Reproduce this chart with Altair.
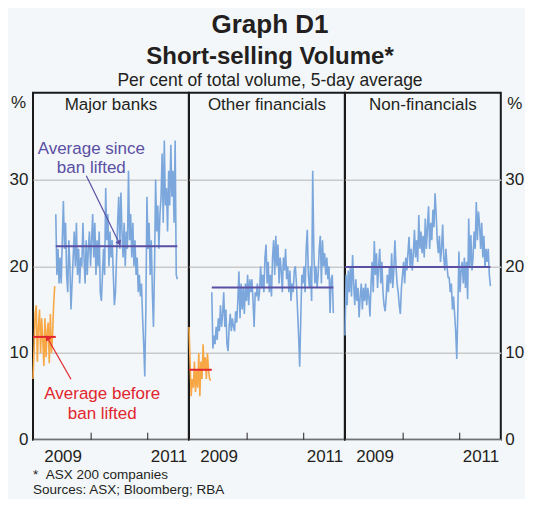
import altair as alt
import pandas as pd

FONT = "Liberation Sans"
BG = "#f3f7fa"
BLUE = "#7ba7dc"
ORANGE = "#f8a745"
PURPLE = "#5a4fa3"
RED = "#e1262d"
INK = "#231f20"
GRID = "#c9c9c9"

START = "2008-12-22"      # first observation
LIFT = "2009-05-18"       # ban lifted for financials
TICK_DATES = ["2010-01-01", "2011-01-01"]
PANELS = ["Major banks", "Other financials", "Non-financials"]

# weekly 5-day average short-selling volume, per cent of total volume
major_before = [7.0, 10.5, 14.5, 15.5, 9.0, 13.0, 15.0, 10.0, 14.0, 11.5, 8.5,
                14.0, 9.5, 12.5, 13.5, 8.8, 14.5, 10.0, 12.0, 15.5, 17.7]
major_after = [26, 19, 22, 18, 21, 18, 23, 27.5,
               22, 25, 19, 17, 23, 20, 15, 18, 21,
               24, 20, 25, 19, 22, 18, 21, 20, 25,
               21, 18, 23, 19, 22, 24, 20, 23, 26,
               21, 25, 19, 23, 20, 24, 17, 16, 19,
               22, 19, 29, 23, 26, 20, 24, 21, 23,
               19, 15.5, 17, 21, 25, 28, 22, 28.5, 24,
               21, 25, 20, 24, 22, 31, 23, 26, 21,
               25, 20, 23, 19, 21, 17, 19, 16.5, 18,
               14, 11, 7.3, 15, 28, 22, 25, 19, 23,
               17, 13, 20, 30, 24, 27, 22, 26, 28,
               33, 25, 34.5, 27, 29, 24, 31, 27, 34,
               28, 31, 25, 34.5, 19, 18.5]
other_before = [13, 9, 5, 7, 6, 9, 5.5, 8, 6, 10, 5, 9, 7, 11, 8, 9.5, 7, 10,
                8, 7, 6.8]
other_after = [17, 10.5, 12, 11, 13, 11.5,
               14, 12.5, 15.5, 13, 14.5, 17,
               13, 15, 11, 10.2, 13, 14.5,
               12.5, 14, 13, 12.5, 14.8, 13.5,
               16, 19.4, 14, 18, 15, 17.5,
               14.5, 18, 16, 19, 15.5, 18.5,
               17, 18.5, 16, 13, 17, 16.5,
               18, 16, 17, 20, 17.5, 19,
               17, 21, 22.5, 18, 20.5, 17,
               19, 16.5, 21, 23, 19, 23.5,
               20, 22.5, 18, 21, 19.5, 17,
               21, 19.5, 22, 18.5, 20, 17,
               19.5, 16, 18, 17, 19.5, 20,
               18, 15, 12, 8.4, 14, 19,
               18, 20, 17, 22, 24.2, 19,
               17.5, 20, 16, 31, 22, 18,
               20, 17.5, 19, 22, 23.5, 18,
               23, 20, 21.5, 19, 21, 18.5,
               20, 14.6, 18.5, 19, 14.6]
nonfin_after = [12, 19, 15.5, 19.5, 17, 20, 16.5, 21.3, 18, 15.5, 18.5, 16,
                17.5, 14.1, 16.5, 18, 15, 17.5, 16, 18, 15.5, 17.5, 16.5, 14.2,
                18, 20.5, 17, 22.9, 19, 21.5, 17.5, 20, 22, 18, 20.5, 17,
                15.5, 14.8, 16.5, 19, 17, 20, 18, 21.5, 17.5, 19.5, 23, 20,
                18, 17, 15.5, 14.5, 17.5, 19, 20.5, 18, 21, 19.5, 21.5, 23.4,
                20, 22, 19.5, 21.5, 24.2, 21, 23, 20.5, 25.9, 22, 24, 21.5,
                23.5, 21, 25.5, 22, 24.5, 26.9, 22, 25, 23, 26.5, 24.5, 28.4,
                26, 23, 21.5, 23.5, 20.5, 22, 24.8, 21, 19.5, 22, 20, 18.7,
                18.7, 17, 18, 15, 16.5, 14.5, 12.5, 9.3, 15, 21.7, 17, 19.5,
                20.5, 18, 21, 17.5, 20.5, 16.2,
                25.5, 20, 23.6, 19.5, 21, 24, 22, 27.4, 23, 26.3, 24.8, 22,
                25, 21, 23.5, 19.8, 22, 20.5, 22, 19, 17.7]

avg_before = {"Major banks": 11.85, "Other financials": 8.06}
avg_after = {"Major banks": 22.3, "Other financials": 17.55, "Non-financials": 19.9}

W, H = 155.8, 347


def weekly(values, start):
    return pd.DataFrame({"date": pd.date_range(start, periods=len(values), freq="7D"),
                         "value": values})


before = {"Major banks": weekly(major_before, START),
          "Other financials": weekly(other_before, START)}
after = {"Major banks": weekly(major_after, LIFT),
         "Other financials": weekly(other_after, LIFT),
         "Non-financials": weekly(nonfin_after, START)}

x_scale = alt.Scale(domain=[alt.DateTime(year=2008, month=12, date=22),
                            alt.DateTime(year=2011, month=9, date=23)])
y_scale = alt.Scale(domain=[0, 40], nice=False, zero=False)

x_axis = alt.Axis(values=[alt.DateTime(year=2009, month=7, date=1),
                          alt.DateTime(year=2011, month=5, date=15)],
                  format="%Y", formatType="time", ticks=False, tickSize=0,
                  domain=False, grid=False, labelPadding=22, minExtent=0,
                  labelBaseline="alphabetic", labelFontSize=17, labelFont=FONT,
                  labelColor=INK, labelFlush=False, labelOverlap=False, title=None)


def y_axis(pos):
    common = dict(values=[0, 10, 20, 30], ticks=False, tickSize=0, domain=False,
                  grid=True, gridColor=GRID, gridWidth=1.4, labelFontSize=17,
                  labelFont=FONT, labelColor=INK, minExtent=0)
    if pos == 0:
        return alt.Axis(orient="left", labelPadding=5, title="%", titleAngle=0,
                        titleX=-15, titleY=15, titleBaseline="alphabetic",
                        titleAlign="center", titleFontSize=17,
                        titleFontWeight="normal", titleFont=FONT,
                        titleColor=INK, **common)
    if pos == 2:
        return alt.Axis(orient="right", labelPadding=4, title="%", titleAngle=0,
                        titleX=13.5, titleY=16, titleBaseline="alphabetic",
                        titleAlign="center", titleFontSize=17,
                        titleFontWeight="normal", titleFont=FONT,
                        titleColor=INK, **common)
    common["labels"] = False
    return alt.Axis(title=None, **common)


def label(text, x, y, size, color=INK, weight="normal", align="center"):
    return alt.Chart(pd.DataFrame({"t": [text]})).mark_text(
        align=align, baseline="alphabetic", fontSize=size, fontWeight=weight,
        color=color, font=FONT).encode(text="t:N", x=alt.value(x), y=alt.value(y))


def arrow(x1, y1, x2, y2, angle, color):
    one = pd.DataFrame({"a": [0]})
    shaft = alt.Chart(one).mark_rule(color=color, strokeWidth=1.2).encode(
        x=alt.value(x1), y=alt.value(y1), x2=alt.value(x2), y2=alt.value(y2))
    head = alt.Chart(one).mark_point(shape="triangle-up", filled=True, size=38,
                                     opacity=1, color=color, angle=angle).encode(
        x=alt.value(x2), y=alt.value(y2))
    return [shaft, head]


def panel(i, name):
    X = lambda f: alt.X(f, scale=x_scale, axis=x_axis)
    Y = lambda f: alt.Y(f, scale=y_scale, axis=y_axis(i))
    layers = []
    d_after = after[name]
    layers.append(alt.Chart(d_after).mark_line(color=BLUE, strokeWidth=1.6)
                  .encode(x=X("date:T"), y=Y("value:Q")))
    end = d_after["date"].iloc[-1]
    if name in before:
        d_before = before[name]
        layers.append(alt.Chart(d_before).mark_line(color=ORANGE, strokeWidth=1.6)
                      .encode(x=X("date:T"), y=Y("value:Q")))
        rb = pd.DataFrame({"start": [pd.Timestamp(START)], "end": [pd.Timestamp(LIFT)],
                           "value": [avg_before[name]]})
        layers.append(alt.Chart(rb).mark_rule(color=RED, strokeWidth=2)
                      .encode(x=X("start:T"), x2="end:T", y=Y("value:Q")))
        a_start = pd.Timestamp(LIFT)
    else:
        a_start = pd.Timestamp(START)
    ra = pd.DataFrame({"start": [a_start], "end": [end], "value": [avg_after[name]]})
    layers.append(alt.Chart(ra).mark_rule(color=PURPLE, strokeWidth=2)
                  .encode(x=X("start:T"), x2="end:T", y=Y("value:Q")))
    ticks = pd.DataFrame({"date": pd.to_datetime(TICK_DATES)})
    layers.append(alt.Chart(ticks).mark_rule(color=INK, strokeWidth=1)
                  .encode(x=X("date:T"), y=alt.value(H), y2=alt.value(H - 7)))
    layers.append(label(name, W / 2, 17.5, 17))
    if i == 0:
        layers.append(label("Average since", 58.3, 61.5, 17, PURPLE))
        layers.append(label("ban lifted", 58.3, 80.7, 17, PURPLE))
        layers += arrow(53.3, 83, 86.3, 150.5, 154, PURPLE)
        layers.append(label("Average before", 69.2, 306.5, 17, RED))
        layers.append(label("ban lifted", 69.2, 326.5, 17, RED))
        layers += arrow(38, 286.5, 14.3, 245, 330, RED)
        layers.append(label("*\u00a0\u00a0ASX 200 companies", 0, 386.7, 13.5, align="left"))
        layers.append(label("Sources: ASX; Bloomberg; RBA", 0, 401.7, 13.5, align="left"))
    if i == 1:
        layers.append(label("Graph D1", 81, -59.5, 26, weight="bold"))
        layers.append(label("Short-selling Volume*", 81, -28.5, 24, weight="bold"))
        layers.append(label("Per cent of total volume, 5-day average", 81, -6.5, 17.5))
    return alt.layer(*layers).properties(width=W, height=H)


chart = alt.hconcat(*[panel(i, n) for i, n in enumerate(PANELS)], spacing=0,
                    bounds="flush").properties(
    padding={"left": 0, "top": 2.7, "right": 0, "bottom": 0}
).configure(background=BG).configure_view(stroke="#1a1a1a", strokeWidth=2, fill=BG)

chart.save("out.html", embed_options={"renderer": "svg", "actions": False})
